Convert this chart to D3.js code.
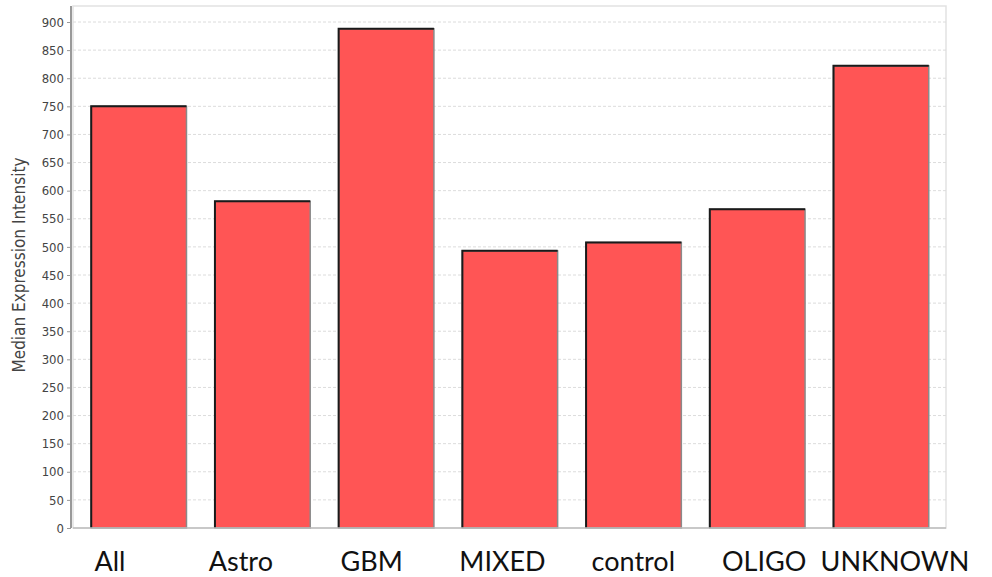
<!DOCTYPE html>
<html><head><meta charset="utf-8">
<script src="https://cdn.jsdelivr.net/npm/d3@7"></script>
<style>body{margin:0;background:#fff;}svg{display:block;}</style>
</head><body>
<svg id="chart" width="992" height="577"></svg>
<script>
const categories = ["All","Astro","GBM","MIXED","control","OLIGO","UNKNOWN"];
const values = [750, 581, 888, 493, 508, 567, 822];
const yTicks = [0,50,100,150,200,250,300,350,400,450,500,550,600,650,700,750,800,850,900];
const yLabel = "Median Expression Intensity";

(function(){
const svg = d3.select("#chart");
const pL = 73, pR = 946, pT = 6, pB = 528;
const x = d3.scaleBand().domain(categories).range([77, 943]).paddingInner(0.23).paddingOuter(0.115);
const xLab = d3.scalePoint().domain(categories).range([110, 895]);
const y = d3.scaleLinear().domain([0, 900]).range([pB, 22]);

// plot frame
svg.append("rect").attr("x", pL).attr("y", pT).attr("width", pR-pL).attr("height", pB-pT)
  .attr("fill", "#fff").attr("stroke", "#e2e2e2").attr("stroke-width", 1.5);

// gridlines
svg.append("g").selectAll("line").data(yTicks.filter(d=>d>0)).join("line")
  .attr("x1", pL).attr("x2", pR).attr("y1", d=>y(d)).attr("y2", d=>y(d))
  .attr("stroke", "#dcdcdc").attr("stroke-width", 1).attr("stroke-dasharray", "3,2");

// bars
const bars = svg.append("g");
bars.selectAll("rect").data(categories).join("rect")
  .attr("x", d=>x(d)).attr("y", (d,i)=>y(values[i]))
  .attr("width", x.bandwidth()).attr("height", (d,i)=>pB - y(values[i]))
  .attr("fill", "#ff5555").attr("stroke", "#8a8a8a").attr("stroke-width", 1.5);
bars.selectAll("path").data(categories).join("path")
  .attr("d", (d,i)=>`M${x(d)},${pB}V${y(values[i])}H${x(d)+x.bandwidth()}`)
  .attr("fill", "none").attr("stroke", "#1a1a1a").attr("stroke-width", 2);

// y axis
const yAxis = d3.axisLeft(y).tickValues(yTicks).tickSize(4).tickPadding(3);
const gy = svg.append("g").attr("transform", `translate(${pL-2},0)`).call(yAxis);
gy.select(".domain").attr("stroke", "#999").attr("stroke-width", 2).attr("d", `M0,${pT}V${pB}`);
gy.selectAll(".tick line").attr("stroke", "#999");
gy.selectAll(".tick text").attr("fill", "#444").style("font-family", "'DejaVu Sans Condensed','Liberation Sans Narrow',sans-serif").style("font-size", "13px");

// bottom axis line
svg.append("line").attr("x1", pL).attr("x2", pR).attr("y1", pB).attr("y2", pB)
  .attr("stroke", "#bdbdbd").attr("stroke-width", 1.5);

// y label
svg.append("text").attr("transform", `translate(25,265) rotate(-90)`)
  .attr("text-anchor", "middle").attr("fill", "#444")
  .style("font-family", "'DejaVu Sans Condensed','Liberation Sans Narrow',sans-serif").style("font-size", "17px")
  .text(yLabel);

// category labels
svg.append("g").selectAll("text").data(categories).join("text")
  .attr("x", d=>xLab(d)).attr("y", 571).attr("text-anchor", "middle")
  .attr("fill", "#111").style("font-family", "Lato, 'Open Sans', sans-serif").style("font-size", "27px")
  .text(d=>d);
})();
</script>
</body></html>
